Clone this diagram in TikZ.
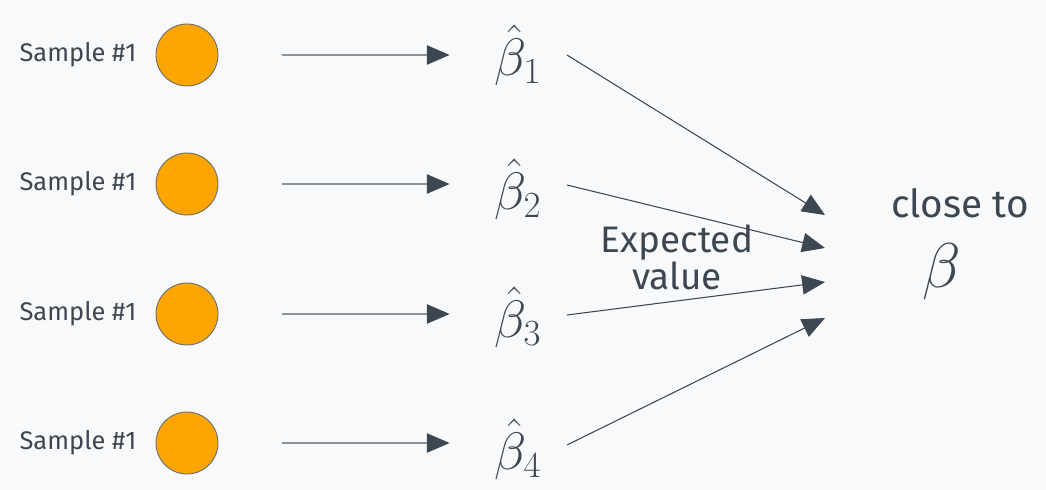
\RequirePackage{fix-cm}
\documentclass[tikz,border=0pt]{standalone}
\usepackage{amsmath}
\usepackage{fontspec}
\setmainfont{Fira Sans}
\usetikzlibrary{arrows.meta}
\definecolor{paper}{HTML}{F8F9FA}
\definecolor{dot}{HTML}{FFA500}
\definecolor{ink}{HTML}{3D4751}
\definecolor{shaft}{HTML}{8E9399}
\tikzstyle{sample} = [circle, minimum size=1.24cm, inner sep=0pt, draw=ink!80, line width=0.5pt, fill=dot]
\tikzstyle{tag} = [text=ink, font=\fontsize{14.5}{17}\selectfont]
\tikzstyle{estimate} = [text=ink, font=\fontsize{30}{34}\selectfont]
\tikzstyle{note} = [text=ink, align=center, font=\fontsize{21}{23}\selectfont]
\tikzstyle{arrow} = [line width=0.9pt, draw=shaft, -{Triangle[length=13pt,width=11pt,color=ink]}]
\tikzstyle{pull} = [line width=0.6pt, draw=ink, -{Triangle[length=13pt,width=11pt,color=ink]}]

\begin{document}
\begin{tikzpicture}[x=0.02cm, y=-0.02cm]

% Background
\fill [paper] (0,0) rectangle (1046,490);

% Samples
\foreach \i/\y in {1/55, 2/184, 3/314, 4/443} {
  \node (lab\i) [tag] at (78,\y) {Sample \#1};
  \node (s\i) [sample] at (187,\y) {};
}

% Estimates
\node (b1) [estimate] at (518,55) {$\hat{\beta}_1$};
\node (b2) [estimate] at (518,189) {$\hat{\beta}_2$};
\node (b3) [estimate] at (518,317) {$\hat{\beta}_3$};
\node (b4) [estimate] at (518,449) {$\hat{\beta}_4$};

% Target
\node (close) [note, font=\fontsize{22}{26}\selectfont] at (960,203) {close to};
\node (beta) [text=ink, font=\fontsize{36}{40}\selectfont] at (942,272) {$\beta$};
\node (ev) [note] at (677,257) {Expected\\[-2pt]value};

\coordinate (t1) at (825,215);
\coordinate (t2) at (825,248);
\coordinate (t3) at (825,282);
\coordinate (t4) at (825,318);

% Arrows
\foreach \i in {1,...,4} {
  \draw [arrow, shorten <=36pt, shorten >=22pt] (s\i.east) -- (s\i.east -| b\i.west);
}
\draw [pull] (567,55) -- (t1);
\draw [pull] (567,185) -- (t2);
\draw [pull] (567,315) -- (t3);
\draw [pull] (567,445) -- (t4);

\end{tikzpicture}
\end{document}
